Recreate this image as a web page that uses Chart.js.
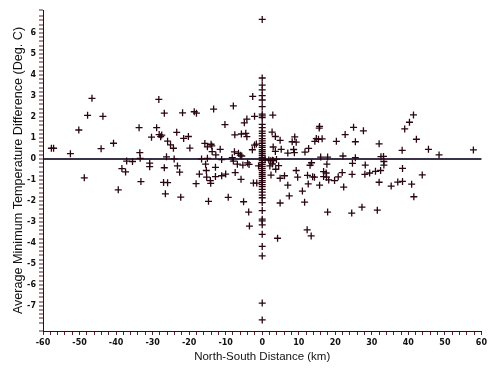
<!DOCTYPE html>
<html>
<head>
<meta charset="utf-8">
<script src="https://cdn.jsdelivr.net/npm/chart.js@4.4.1/dist/chart.umd.min.js"></script>
<style>
  html, body { margin: 0; padding: 0; background: #ffffff; }
  #wrap { width: 490px; height: 368px; }
</style>
</head>
<body>
<div id="wrap"><canvas id="c" width="490" height="368"></canvas></div>
<script>
// North-South distance (km) vs average minimum temperature difference (Deg. C)
const westPoints = [
  [-57.7,0.51],[-57.1,0.51],[-52.5,0.25],[-50.2,1.38],[-48.7,-0.9],[-47.8,2.08],[-46.6,2.89],[-44.1,0.49],[-43.6,2.03],[-40.7,0.75],
  [-39.4,-1.47],[-38.4,-0.46],[-37.4,-0.62],[-37.1,-0.1],[-35.5,-0.12],[-33.7,1.49],[-33.5,0.3],[-33.4,0.03],[-33.2,-1.08],[-30.8,-0.2],
  [-30.8,-0.37],[-30.3,1.04],[-28.9,1.49],[-28.3,2.84],[-28.2,1.16],[-27.5,1.14],[-27.8,1.06],[-27.0,-1.12],[-26.8,2.18],[-26.8,-0.42],
  [-26.5,-1.66],[-26.2,0.1],[-25.9,0.85],[-25.9,-1.13],[-25.1,0.67],[-24.3,0.51],[-24.1,0],[-23.4,1.27],[-23.2,-0.33],[-22.6,-0.63],
  [-22.3,-1.82],[-21.8,2.2],[-21.5,0.98],[-20.2,1.07],[-19.8,0.52],[-18.6,2.25],[-18.0,2.18],[-18.1,-1.18],[-17.2,-0.72],[-16.6,0],
  [-15.7,0.74],[-15.5,-0.25],[-15.3,-0.55],[-15.0,0.58],[-15.0,0.03],[-15.2,-0.87],[-14.7,-2.02],[-14.2,-1.03],[-14.1,-1.16],[-14.0,0.7],
  [-13.8,0.62],[-13.3,2.38],[-13.7,0.35],[-12.8,-0.4],[-12.8,-0.84],[-12.7,0.19],[-11.5,0.46],[-11.1,-0.03],[-11.1,-0.8],[-10.2,1.64],
  [-10.0,-0.72],[-9.3,-1.83],[-8.2,0.06],[-7.9,2.53],[-7.9,-0.1],[-7.5,1.15],[-7.6,0.34],[-7.4,-0.65],[-6.8,-0.25],[-6.5,0.27],
  [-6.0,0.18],[-5.6,0.14],[-5.8,-0.97],[-5.3,-0.29],[-5.7,1.19],[-5.1,-2.04],[-4.9,1.72],[-4.2,1.9],[-4.5,1.22],[-4.2,1.06],
  [-4.0,-0.19],[-3.6,-0.26],[-3.7,-2.53],[-3.5,-3.2],[-2.6,2.98],[-2.1,2.03],[-2.7,0.44],[-2.1,0.66],[-1.6,0.71],[-2.4,-1.15],
  [-1.5,-1.15],[-1.0,-0.33]
];
const centerDiffs = [
  6.65,3.86,3.52,3.29,3.02,2.81,2.49,2.14,2.05,1.97,1.65,1.49,1.33,1.22,1.1,0.97,0.86,0.75,0.64,0.55,
  0.44,0.35,0.26,0.17,0.08,0,-0.08,-0.17,-0.26,-0.35,-0.45,-0.55,-0.65,-0.74,-0.83,-0.93,-1.03,-1.12,-1.22,-1.32,
  -1.45,-1.58,-1.72,-1.85,-2.08,-2.46,-2.87,-2.95,-3.14,-3.59,-4.17,-4.62,-6.87,-7.67
];
const eastPoints = [
  [0.8,-0.03],[1.8,-0.05],[2.3,-0.08],[2.1,-0.33],[2.4,-0.77],[2.8,-0.24],[2.8,-0.06],[2.9,2.09],[2.7,1.28],[3.0,0.57],
  [3.1,-0.08],[3.6,1.07],[3.6,0.36],[3.7,-0.49],[3.9,-0.02],[4.5,-0.32],[4.9,0.89],[4.9,-0.92],[4.9,-2.1],[4.2,-3.78],
  [5.2,0.46],[6.1,-0.8],[7.0,0.28],[7.0,-1.25],[7.4,-1.76],[8.2,0.82],[8.6,0.45],[8.8,0.3],[8.9,1.05],[9.3,0.8],
  [9.3,-0.55],[9.7,-0.87],[11.0,-1.53],[11.6,-2.06],[11.7,0.33],[12.7,0.5],[12.6,-1.19],[12.4,-0.78],[12.3,-3.38],[13.4,-3.67],
  [13.1,-0.3],[13.5,-0.18],[13.8,-0.85],[14.3,-0.87],[14.4,0.84],[14.8,0.97],[15.4,0.94],[16.4,0.96],[15.7,1.55],[15.6,1.47],
  [15.7,-1.25],[16.0,0.09],[16.8,-0.6],[17.5,-0.67],[16.8,-0.84],[17.6,-0.87],[17.7,-0.25],[17.9,0.09],[17.9,-2.53],[18.2,-1.0],
  [19.8,-1.03],[20.3,0.84],[20.8,-0.85],[21.9,-0.65],[22.1,0.14],[22.3,-1.34],[22.7,1.16],[24.6,-0.73],[24.7,-0.21],[24.5,-2.58],
  [25.0,1.51],[25.5,0.82],[25.5,0.06],[27.3,-2.3],[27.7,1.34],[28.2,-0.29],[28.1,-0.73],[29.4,-0.67],[31.0,-0.59],[31.5,-2.44],
  [32.0,0.72],[32.0,-1.11],[32.4,-0.55],[32.5,0.11],[33.2,0.12],[33.3,-0.12],[33.3,-0.29],[35.3,-1.29],[37.1,-1.1],[38.4,-1.07],
  [38.3,0.41],[38.4,-0.45],[39.0,1.43],[40.3,1.75],[41.4,2.1],[40.9,-1.2],[41.5,-1.8],[42.2,0.94],[43.8,-0.76],[45.5,0.46],
  [48.4,0.19],[57.8,0.43]
];
const xRange = [-60, 60];
const yRange = [-8.2, 7.1];
const xTitle = 'North-South Distance (km)';
const yTitle = 'Average Minimum Temperature Difference (Deg. C)';

const points = []
  .concat(westPoints.map(p => ({x: p[0], y: p[1]})))
  .concat(centerDiffs.map(v => ({x: 0, y: v})))
  .concat(eastPoints.map(p => ({x: p[0], y: p[1]})));

const isInt = v => Math.abs(v - Math.round(v)) < 1e-6;
const tickFont = { family: 'DejaVu Sans', size: 8, weight: 'bold' };

new Chart(document.getElementById('c'), {
  type: 'scatter',
  data: {
    datasets: [{
      data: points,
      pointStyle: 'cross',
      pointRadius: 3.5,
      pointBorderWidth: 1.3,
      borderColor: '#2a0610',
      backgroundColor: '#2a0610',
      pointHoverRadius: 3.5
    }]
  },
  options: {
    responsive: false,
    animation: false,
    devicePixelRatio: 1,
    layout: { padding: { top: 10, right: 8, bottom: 0, left: 0 } },
    plugins: { legend: { display: false }, tooltip: { enabled: false } },
    scales: {
      x: {
        type: 'linear',
        min: xRange[0], max: xRange[1],
        afterFit: s => { s.height = 37; },
        border: { display: true, color: '#2a1014', width: 1 },
        grid: { drawOnChartArea: false, drawTicks: true, tickLength: 4, tickColor: '#5a2028', tickWidth: 1 },
        ticks: {
          stepSize: 2, autoSkip: false, maxRotation: 0, padding: 3, maxTicksLimit: 200,
          color: '#111', font: tickFont,
          callback: v => (Math.abs(v % 10) < 1e-6 ? String(Math.round(v)) : '')
        },
        title: { display: true, text: xTitle, color: '#111', font: { family: 'Liberation Sans', size: 11.5 }, padding: { top: 0, bottom: 4 } }
      },
      y: {
        type: 'linear',
        min: yRange[0], max: yRange[1],
        afterFit: s => { s.width = 43; },
        border: { display: true, color: '#2a1014', width: 1 },
        grid: {
          drawOnChartArea: true, drawTicks: true, tickLength: 4, tickWidth: 1,
          tickColor: '#5a2028',
          color: c => (c.tick && Math.abs(c.tick.value) < 1e-6 ? '#3a3448' : 'rgba(0,0,0,0)'),
          lineWidth: c => (c.tick && Math.abs(c.tick.value) < 1e-6 ? 2 : 0)
        },
        ticks: {
          stepSize: 0.2, autoSkip: false, padding: 3, maxTicksLimit: 200,
          color: '#111', font: tickFont,
          callback: v => (isInt(v) ? String(Math.round(v)) : '')
        },
        title: { display: true, text: yTitle, color: '#111', font: { family: 'Liberation Sans', size: 12.6 }, padding: { top: 11, bottom: 0 } }
      }
    }
  }
});
</script>
</body>
</html>
